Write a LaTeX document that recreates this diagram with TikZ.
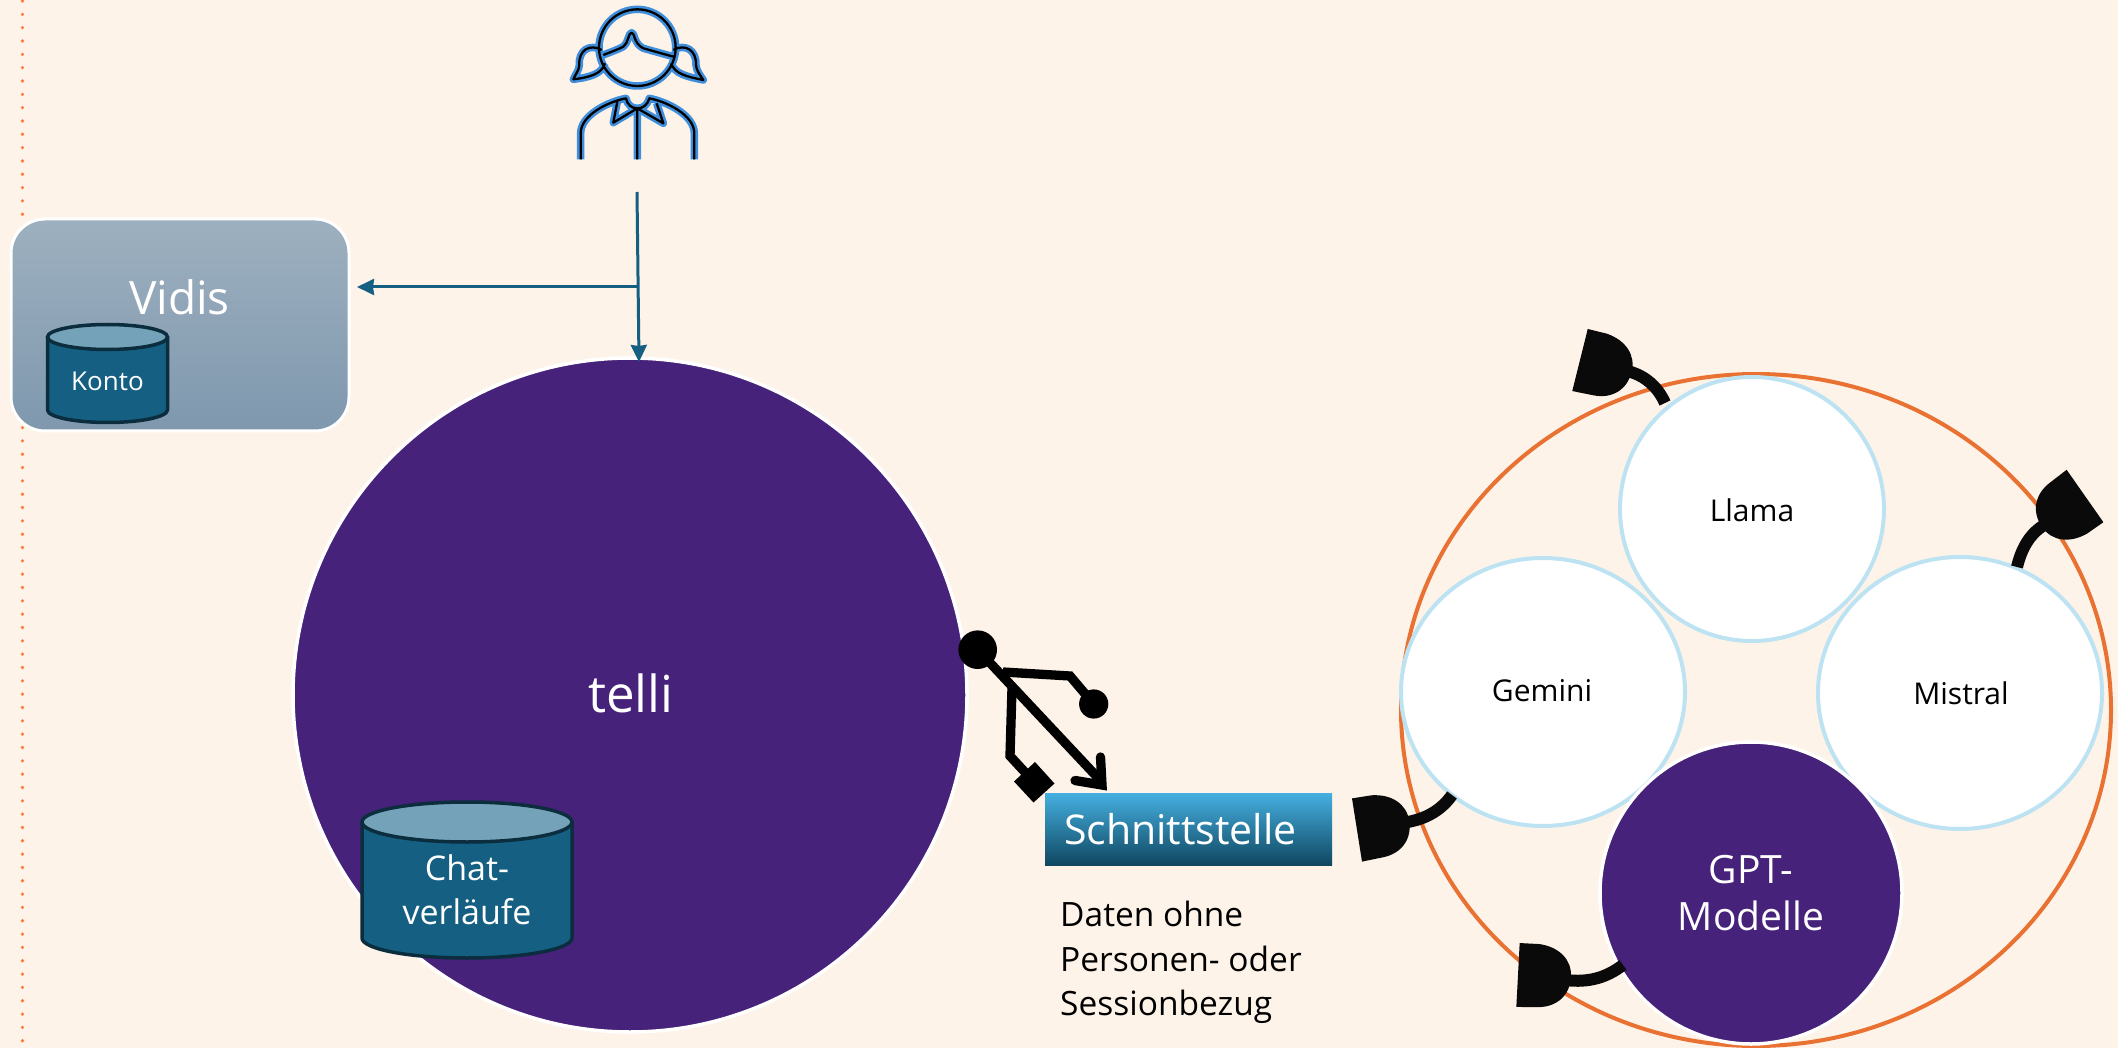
\documentclass[tikz,border=0pt]{standalone}
\usepackage{fontspec}
\setmainfont{Open Sans}
\newfontfamily\vidisfont{Open Sans}
\usetikzlibrary{arrows.meta}
\definecolor{bgc}{HTML}{FDF3E9}
\definecolor{purplec}{HTML}{46227A}
\definecolor{tealc}{HTML}{156082}
\definecolor{darkc}{HTML}{0B2D3E}
\definecolor{topc}{HTML}{74A3B9}
\definecolor{orangec}{HTML}{E97132}
\definecolor{dotc}{HTML}{FF7A3D}
\definecolor{paleblue}{HTML}{BDE3F3}
\definecolor{plugc}{HTML}{0A0A0A}
\definecolor{iconblue}{HTML}{3F8EDC}
\newcommand{\fs}[1]{\fontsize{#1}{#1}\selectfont}
\newcommand{\iconpath}{
  (292,143) circle (115)
  (190,165) .. controls (215,155) and (235,148) .. (250,140) .. controls (265,130) and (265,98) .. (275,98) .. controls (285,98) and (280,130) .. (310,145) -- (400,170)
  (185,150) .. controls (150,130) and (115,150) .. (118,195) .. controls (118,210) and (105,225) .. (100,238) .. controls (150,232) and (185,222) .. (195,190)
  (400,150) .. controls (435,130) and (470,150) .. (468,195) .. controls (468,210) and (482,228) .. (490,240) .. controls (440,230) and (405,222) .. (393,190)
  (122,478) -- (122,400) .. controls (122,345) and (205,305) .. (258,295) .. controls (262,315) and (275,325) .. (292,325) .. controls (310,325) and (322,315) .. (328,295) .. controls (380,305) and (463,345) .. (463,400) -- (463,478)
  (292,325) -- (292,478)
  (232,305) -- (220,368) -- (292,325) -- (370,370) -- (350,310)
}
\tikzset{
  disc/.style={circle,inner sep=0pt,minimum size=#1},
  modeldisc/.style={ellipse,inner sep=0pt,fill=white,draw=paleblue,line width=4pt},
  stalk/.style={draw=plugc,line width=12pt},
  usbline/.style={draw=black,line width=9.3pt},
  conn/.style={draw=tealc,line width=3pt,-{Stealth[length=17pt,width=16pt,inset=1pt]}},
  cyl/.style={fill=tealc,draw=darkc,line width=3.5pt,line join=round},
  cyltop/.style={fill=topc,draw=darkc,line width=3.5pt},
  plug/.pic={\fill[plugc] (0,-32) -- (20,-32) .. controls (40,-30) and (53,-18) .. (53,-1) .. controls (53,18) and (40,30) .. (22,31) -- (0,32) -- cycle;},
}
\usetikzlibrary{shapes.geometric}
\begin{document}
\begin{tikzpicture}[x=1pt,y=-1pt]
\useasboundingbox (0,0) rectangle (2118,1048);
\fill[bgc] (0,0) rectangle (2118,1048);
% dotted margin line
\coordinate (dotA) at (22.5,1);
\coordinate (dotB) at (22.5,1048);
\draw[dotc,line width=3.6pt,line cap=round,dash pattern=on 0pt off 13.33pt] (dotA) -- (dotB);
% user icon
\begin{scope}[shift={(540,0)},x=0.3333pt,y=-0.3333pt,line join=round]
\draw[iconblue,line width=7.5pt] \iconpath;
\draw[black,line width=2.3pt] \iconpath;
\end{scope}
\coordinate (user) at (637,192);
\coordinate (branch) at (637.6,287);
\coordinate (telliin) at (639,362);
\coordinate (vidisin) at (357,287);
% Vidis
\node[rectangle,rounded corners=34pt,minimum width=338pt,minimum height=212pt,inner sep=0pt,draw=white,line width=3pt,shade,top color={rgb,255:red,157;green,176;blue,191},bottom color={rgb,255:red,127;green,152;blue,174}] (vidis) at (180,325) {};
\node[text=white,font=\vidisfont\fs{46}] (vidislabel) at (179.5,297) {Vidis};
% Konto cylinder
\path[cyl] (47.5,337) -- (47.5,410) arc[start angle=180,end angle=360,x radius=60,y radius=-12.5] -- (167.5,337) -- cycle;
\path[cyltop] (107.5,337) ellipse[x radius=60,y radius=12.5];
\node[text=white,font=\fs{26}] (konto) at (107.5,381) {Konto};
% telli
\node[disc=674pt,fill=purplec,draw=white,line width=3.5pt] (telli) at (630,695) {};
\node[text=white,font=\fs{51}] (tellilabel) at (631,693) {telli};
% Chat cylinder
\path[cyl] (362,822) -- (362,938) arc[start angle=180,end angle=360,x radius=105,y radius=-20] -- (572,822) -- cycle;
\path[cyltop] (467,822) ellipse[x radius=105,y radius=20];
\node[text=white,font=\fs{34},align=center] (chat) at (467,890) {Chat-\\[10pt]verläufe};
% connectors
\draw[conn] (user) -- (telliin);
\draw[conn] (branch) -- (vidisin);
% USB symbol
\node[disc=38.6pt,fill=black] (usbhub) at (977.7,649.7) {};
\node[disc=29.2pt,fill=black] (usbdot) at (1093.7,704) {};
\coordinate (usbtip) at (1102,785);
\draw[usbline] (usbhub.center) -- (1100,780);
\draw[usbline,line cap=round,miter limit=10] (1100.5,757) -- (usbtip) -- (1075,780.5);
\draw[usbline] (1003,672) -- (1070,676) -- (usbdot.center);
\draw[usbline] (1012,688) -- (1010,756) -- (1034,782);
\fill[black] (1035,762) -- (1054.5,783.5) -- (1033.5,802.5) -- (1014,781.5) -- cycle;
% Schnittstelle
\node[rectangle,minimum width=287pt,minimum height=72pt,inner sep=0pt,shade,top color={rgb,255:red,69;green,176;blue,225},bottom color={rgb,255:red,15;green,71;blue,97}] (schnitt) at (1188.5,829) {};
\node[anchor=west,text=white,font=\fs{41},inner sep=0pt] (schnittlabel) at (1064,829) {Schnittstelle};
\node[anchor=north west,font=\fs{33.5},align=left,inner sep=0pt] (daten) at (1060,901) {Daten ohne\\[11pt]Personen- oder\\[11pt]Sessionbezug};
% Model ring
\node[ellipse,inner sep=0pt,minimum width=710pt,minimum height=672pt,draw=orangec,line width=4pt] (ring) at (1756,710) {};
\node[modeldisc,minimum width=264pt,minimum height=264pt] (llama) at (1752,509) {};
\node[modeldisc,minimum width=284pt,minimum height=268pt] (gemini) at (1543,692) {};
\node[modeldisc,minimum width=284pt,minimum height=272pt] (mistral) at (1960,693) {};
\node[disc=302pt,fill=purplec,draw=white,line width=3.5pt] (gpt) at (1751,893) {};
\node[font=\fs{30}] (llamalabel) at (1752,510) {Llama};
\node[font=\fs{30}] (geminilabel) at (1542,691) {Gemini};
\node[font=\fs{30}] (mistrallabel) at (1961,693) {Mistral};
\node[text=white,font=\fs{39},align=center] (gptlabel) at (1751,893) {GPT-\\[8pt]Modelle};
% plugs
\coordinate (p1) at (1518,975);
\coordinate (p2) at (1357,830);
\coordinate (p3) at (1580,360);
\coordinate (p4) at (2085,496);
\coordinate (s1) at (1623,965);
\coordinate (s2) at (1452,795);
\coordinate (s3) at (1665,403);
\coordinate (s4) at (2017,567);
\draw[stalk] (1565,980) .. controls (1590,983) and (1607,977) .. (s1);
\draw[stalk] (1400,823) .. controls (1422,821) and (1440,812) .. (s2);
\draw[stalk] (1622,370) .. controls (1642,373) and (1657,385) .. (s3);
\draw[stalk] (2050,522) .. controls (2032,530) and (2022,546) .. (s4);
\pic[rotate=-3] at (p1) {plug};
\pic[rotate=9] at (p2) {plug};
\pic[rotate=-14] at (p3) {plug};
\pic[rotate=215] at (p4) {plug};
\end{tikzpicture}
\end{document}
